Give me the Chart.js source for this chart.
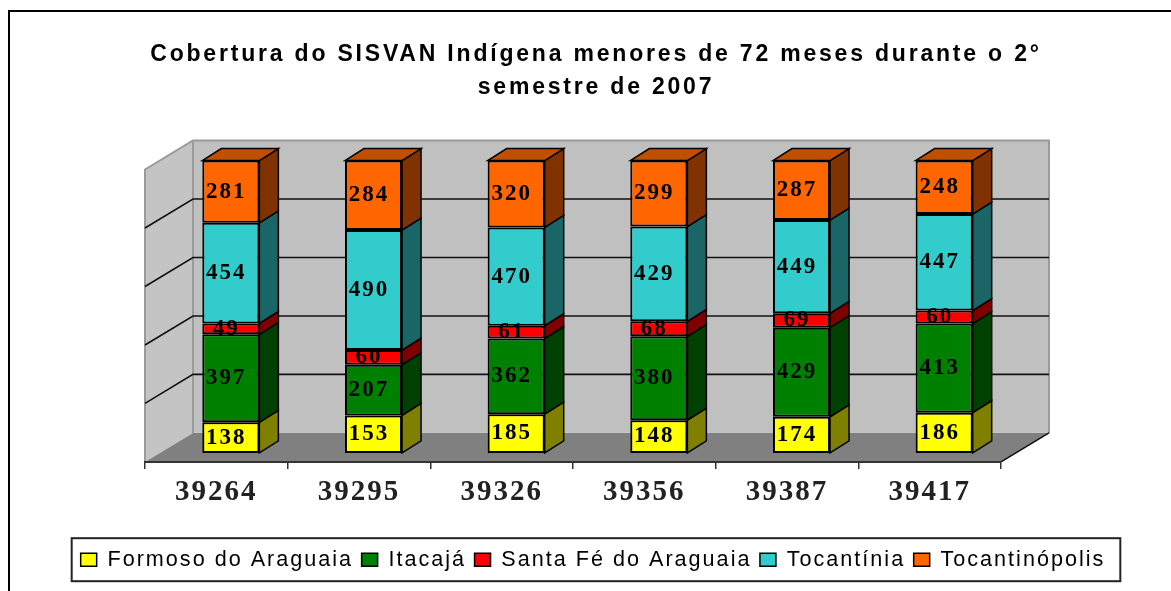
<!DOCTYPE html>
<html><head><meta charset="utf-8">
<style>html,body{margin:0;padding:0;background:#fff}canvas{display:block}</style>
<script src="https://cdn.jsdelivr.net/npm/chart.js@4"></script>
</head><body><canvas id="c" width="1171" height="591"></canvas>
<script>
const categories = ['39264','39295','39326','39356','39387','39417'];
const formoso = [138,153,185,148,174,186];
const itacaja = [397,207,362,380,429,413];
const santaFe = [49,60,61,68,69,60];
const tocantinia = [454,490,470,429,449,447];
const tocantinopolis = [281,284,320,299,287,248];
const seriesNames = ['Formoso do Araguaia','Itacajá','Santa Fé do Araguaia','Tocantínia','Tocantinópolis'];
const seriesRaw = [formoso,itacaja,santaFe,tocantinia,tocantinopolis];
const frontColors = ['#FFFF00','#008000','#FF0000','#33CCCC','#FF6600'];
const sideColors = ['#808000','#004000','#800000','#1A6666','#803300'];
const titleLines = ['Cobertura do SISVAN Indígena menores de 72 meses durante o 2°','semestre de 2007'];
const totals = categories.map((_,i)=>seriesRaw.reduce((s,a)=>s+a[i],0));

const WALL = {dx:48, dy:-29};
const BAR = {dx:14.5, dy:-9, sx:19, sy:-12};

const spacing = {
  id:'spacing',
  beforeLayout(c){c.ctx.letterSpacing='2px';},
  beforeDraw(c){
    c.ctx.letterSpacing='2px';
    const tb=c.titleBlock;
    if(!tb._wrapped){
      const orig=tb.draw;
      tb.draw=function(){
        c.ctx.save();c.ctx.translate(3,0);c.ctx.letterSpacing='2.8px';
        orig.call(tb);
        c.ctx.restore();c.ctx.letterSpacing='2px';
      };
      tb._wrapped=true;
    }
  }
};
const walls = {
  id:'walls',
  beforeDraw(c){
    const {ctx,chartArea:a,scales:{y}} = c;
    const {dx,dy} = WALL;
    ctx.save();
    ctx.strokeStyle='#000';ctx.lineWidth=2;
    ctx.beginPath();ctx.moveTo(9,591);ctx.lineTo(9,11);ctx.lineTo(1171,11);ctx.stroke();
    ctx.fillStyle='#C4C4C4';
    ctx.beginPath();ctx.moveTo(a.left,a.bottom);ctx.lineTo(a.left,a.top);ctx.lineTo(a.left+dx,a.top+dy);ctx.lineTo(a.left+dx,a.bottom+dy);ctx.closePath();ctx.fill();
    ctx.fillStyle='#C0C0C0';
    ctx.fillRect(a.left+dx,a.top+dy,a.right-a.left,a.bottom-a.top);
    ctx.fillStyle='#808080';
    ctx.beginPath();ctx.moveTo(a.left,a.bottom);ctx.lineTo(a.left+dx,a.bottom+dy);ctx.lineTo(a.right+dx,a.bottom+dy);ctx.lineTo(a.right,a.bottom);ctx.closePath();ctx.fill();
    ctx.strokeStyle='#9A9A9A';ctx.lineWidth=2;
    ctx.beginPath();ctx.moveTo(a.left,a.bottom);ctx.lineTo(a.left,a.top);ctx.lineTo(a.left+dx,a.top+dy);ctx.lineTo(a.right+dx,a.top+dy);ctx.lineTo(a.right+dx,a.bottom+dy);ctx.stroke();
    ctx.beginPath();ctx.moveTo(a.left+dx,a.top+dy);ctx.lineTo(a.left+dx,a.bottom+dy);ctx.stroke();
    ctx.strokeStyle='#111';ctx.lineWidth=1.6;
    y.ticks.forEach(t=>{
      if(t.value===0||t.value===100) return;
      const py=y.getPixelForValue(t.value);
      ctx.beginPath();ctx.moveTo(a.left,py);ctx.lineTo(a.left+dx,py+dy);ctx.lineTo(a.right+dx,py+dy);ctx.stroke();
    });
    ctx.beginPath();ctx.moveTo(a.right,a.bottom);ctx.lineTo(a.right+dx,a.bottom+dy);ctx.stroke();
    ctx.restore();
  }
};
const bars3d = {
  id:'bars3d',
  beforeDatasetsDraw(c){
    const ctx=c.ctx;
    ctx.save();
    ctx.translate(BAR.dx,BAR.dy);
    const {sx,sy}=BAR;
    seriesRaw.forEach((_,d)=>{
      c.getDatasetMeta(d).data.forEach(el=>{
        const r=el.x+el.width/2, l=el.x-el.width/2;
        ctx.fillStyle=sideColors[d];ctx.strokeStyle='#000';ctx.lineWidth=1.5;
        ctx.beginPath();ctx.moveTo(r,el.y);ctx.lineTo(r+sx,el.y+sy);ctx.lineTo(r+sx,el.base+sy);ctx.lineTo(r,el.base);ctx.closePath();ctx.fill();ctx.stroke();
        if(d===seriesRaw.length-1){
          ctx.fillStyle='#C05000';
          ctx.beginPath();ctx.moveTo(l,el.y);ctx.lineTo(l+sx,el.y+sy);ctx.lineTo(r+sx,el.y+sy);ctx.lineTo(r,el.y);ctx.closePath();ctx.fill();ctx.stroke();
        }
      });
    });
  },
  afterDatasetsDraw(c){
    const ctx=c.ctx;
    ctx.fillStyle='#000';
    ctx.font='bold 23px "Liberation Serif"';
    ctx.textAlign='center';ctx.textBaseline='middle';
    seriesRaw.forEach((raw,d)=>{
      c.getDatasetMeta(d).data.forEach((el,i)=>{
        ctx.fillText(String(raw[i]),el.x-4.5,(el.y+el.base)/2);
      });
    });
    ctx.restore();
  }
};
const legendBox = {
  id:'legendBox',
  afterDraw(c){
    const hb=c.legend.legendHitBoxes, ctx=c.ctx;
    const l=hb[0].left-9, last=hb[hb.length-1], r=last.left+last.width+15;
    const cy=hb[0].top+hb[0].height/2;
    ctx.save();ctx.strokeStyle='#222';ctx.lineWidth=2;
    ctx.strokeRect(l,cy-21.5,r-l,43);
    ctx.restore();
  }
};

new Chart(document.getElementById('c'),{
  type:'bar',
  data:{labels:categories,datasets:seriesRaw.map((raw,d)=>({
    label:seriesNames[d],
    data:raw.map((v,i)=>v/totals[i]*100),
    backgroundColor:frontColors[d],
    borderColor:'#000',borderWidth:2,borderSkipped:false,
    barPercentage:0.4,categoryPercentage:1,clip:false
  }))},
  options:{
    responsive:false,animation:false,
    layout:{padding:{left:15,right:0,top:0,bottom:10.5}},
    plugins:{
      tooltip:{enabled:false},
      title:{display:true,text:titleLines,color:'#000',
        font:{family:'"Liberation Sans"',size:23,weight:'bold',lineHeight:1.435},
        padding:{top:38,bottom:65.5}},
      legend:{position:'bottom',onClick:null,
        labels:{color:'#000',font:{family:'"Liberation Sans"',size:21.6},boxWidth:16,boxHeight:13,padding:8.5,
          generateLabels(c){return seriesNames.map((n,d)=>({text:n,fillStyle:frontColors[d],strokeStyle:'#000',lineWidth:1.5,datasetIndex:d}));}}}
    },
    scales:{
      x:{stacked:true,
        afterFit(s){s.height=78.5;},
        grid:{drawOnChartArea:false,color:'#333',tickLength:7,lineWidth:1.5},
        border:{color:'#333',width:2},
        ticks:{color:'#222',font:{family:'"Liberation Serif"',size:29,weight:'bold'},padding:6,maxRotation:0}},
      y:{stacked:true,min:0,max:100,
        afterFit(s){s.width=130;},
        ticks:{display:false,stepSize:20},grid:{display:false},border:{display:false}},
      yr:{position:'right',min:0,max:100,
        afterFit(s){s.width=170;},
        ticks:{display:false},grid:{display:false},border:{display:false}}
    }
  },
  plugins:[spacing,walls,bars3d,legendBox]
});
</script></body></html>
